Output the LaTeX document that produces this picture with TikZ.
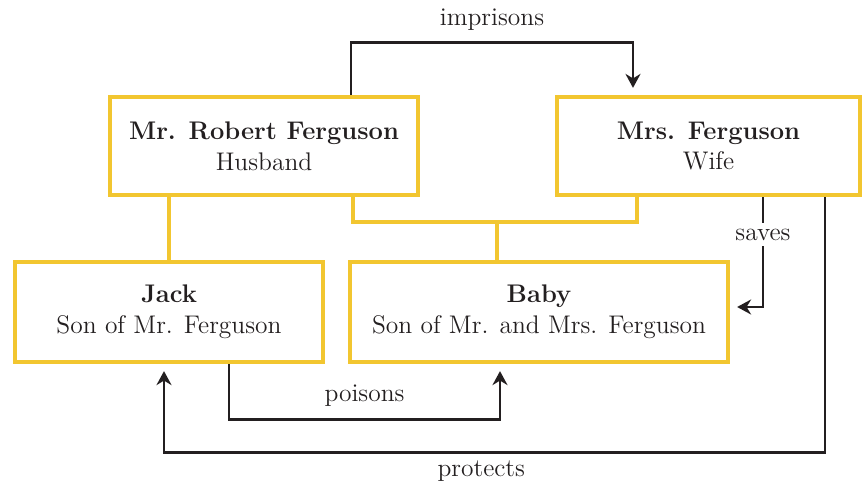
\documentclass[tikz,border=0pt]{standalone}
\usetikzlibrary{arrows.meta,positioning,calc}
\definecolor{gold}{HTML}{F2C630}
\definecolor{ink}{HTML}{231F20}
\tikzset{
  person/.style={draw=gold, fill=white, line width=2.4pt, minimum height=1.96cm,
    align=center, font=\fontsize{14.5}{17.5}\selectfont, text=ink},
  famline/.style={draw=gold, line width=2.2pt},
  rel/.style={-{Stealth[length=2.8mm, width=3mm]}, draw=ink, line width=1.6pt, shorten >=.14cm},
  rlabel/.style={font=\fontsize{14.5}{17.5}\selectfont, text=ink}
}

\begin{document}
\begin{tikzpicture}[x=1cm,y=1cm]
  \useasboundingbox (0,0) rectangle (17.26,9.64);

  \node[person, minimum width=6.16cm] (husband) at (5.28,6.72) {\textbf{Mr. Robert Ferguson}\\Husband};
  \node[person, minimum width=6.06cm] (wife) at (14.17,6.72) {\textbf{Mrs. Ferguson}\\Wife};
  \node[person, minimum width=6.16cm, minimum height=2cm] (jack) at (3.38,3.4) {\textbf{Jack}\\Son of Mr. Ferguson};
  \node[person, minimum width=7.56cm, minimum height=2cm] (baby) at (10.78,3.4) {\textbf{Baby}\\Son of Mr. and Mrs. Ferguson};

  % family lines
  \coordinate (wed) at (9.94,5.2);
  \draw[famline] (jack.north) -- (jack.north |- husband.south);
  \draw[famline] ([xshift=1.78cm]husband.south) |- (wed) -| ([xshift=-1.43cm]wife.south);
  \draw[famline] (wed) -- (wed |- baby.north);

  % relations
  \draw[rel] ([xshift=1.74cm]husband.north) -- ++(0,1.04) -| node[rlabel, pos=.25, above=3pt] {imprisons} ([xshift=-1.51cm]wife.north);
  \draw[rel] ([xshift=1.09cm]wife.south) |- node[rlabel, pos=.17, fill=white, inner sep=3pt] {saves} ([yshift=.1cm]baby.east);
  \draw[rel] ([xshift=1.2cm]jack.south) -- ++(0,-1.1) -| node[rlabel, pos=.25, above=3pt] {poisons} ([xshift=-.78cm]baby.south);
  \draw[rel] ([xshift=2.33cm]wife.south) -- ++(0,-5.1) -| node[rlabel, pos=.26, below=1pt] {protects} ([xshift=-.1cm]jack.south);
\end{tikzpicture}
\end{document}
